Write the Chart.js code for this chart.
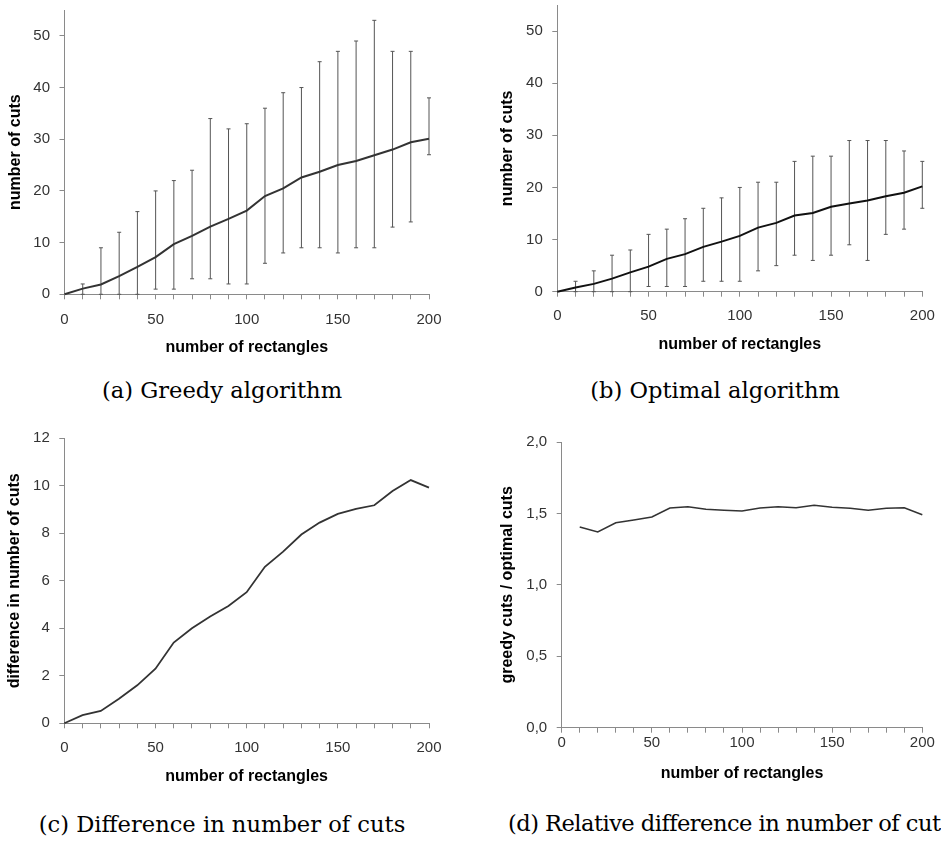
<!DOCTYPE html>
<html><head><meta charset="utf-8">
<script src="https://cdn.jsdelivr.net/npm/chart.js@4"></script>
<style>
html,body{margin:0;padding:0;background:#fff;width:941px;height:841px;overflow:hidden;position:relative}
canvas{position:absolute}
.cap{position:absolute;font-family:'DejaVu Serif',serif;font-size:22.6px;line-height:22px;white-space:nowrap;color:#000}
.ctr{transform:translateX(-50%)}
</style></head><body>
<canvas id="ca" width="470" height="365" style="left:0;top:0"></canvas>
<canvas id="cb" width="471" height="365" style="left:470px;top:0"></canvas>
<canvas id="cc" width="470" height="370" style="left:0;top:420px"></canvas>
<canvas id="cd" width="471" height="370" style="left:470px;top:420px"></canvas>
<div class="cap ctr" style="left:222px;top:379px">(a) Greedy algorithm</div>
<div class="cap ctr" style="left:715px;top:379px">(b) Optimal algorithm</div>
<div class="cap ctr" style="left:222px;top:813px">(c) Difference in number of cuts</div>
<div class="cap" style="left:508px;top:812px;letter-spacing:-0.55px">(d) Relative difference in number of cuts</div>
<script>
// ---- data ----
const rectangles = [0,10,20,30,40,50,60,70,80,90,100,110,120,130,140,150,160,170,180,190,200];
const greedyMean = [0,1.1,1.9,3.5,5.3,7.2,9.7,11.3,13.1,14.6,16.2,19.0,20.5,22.6,23.7,25.0,25.8,26.9,28.0,29.4,30.1];
const greedyMin  = [null,0,0,0,0,1,1,3,3,2,2,6,8,9,9,8,9,9,13,14,27];
const greedyMax  = [null,2,9,12,16,20,22,24,34,32,33,36,39,40,45,47,49,53,47,47,38];
const optimalMean = [0,0.8,1.5,2.5,3.7,4.8,6.3,7.2,8.6,9.6,10.7,12.3,13.2,14.6,15.1,16.3,16.9,17.5,18.3,19.0,20.2];
const optimalMin  = [null,0,0,0,0,1,1,1,2,2,2,4,5,7,6,7,9,6,11,12,16];
const optimalMax  = [null,2,4,7,8,11,12,14,16,18,20,21,21,25,26,26,29,29,29,27,25];
const difference = [0,0.34,0.52,1.03,1.6,2.3,3.4,4.0,4.5,4.94,5.52,6.59,7.23,7.95,8.45,8.82,9.03,9.18,9.78,10.24,9.92];
const ratio = [null,1.405,1.37,1.435,1.454,1.475,1.538,1.547,1.529,1.522,1.517,1.538,1.547,1.54,1.557,1.543,1.536,1.522,1.536,1.54,1.491];

const xTitle = 'number of rectangles';
const AXIS = '#8a8a8a', TICK = '#333', ERR = '#555';

Chart.defaults.font.family = "'Liberation Sans', Arial, sans-serif";
Chart.defaults.animation = false;

function pts(xs, ys){ return xs.map((x,i)=>({x, y: ys[i]})); }
function errSegs(xs, lo, hi){
  const out=[];
  xs.forEach((x,i)=>{ if(lo[i]==null) return; out.push({x,y:lo[i]},{x,y:hi[i]},{x,y:null}); });
  return out;
}
function capPts(xs, lo, hi){
  const out=[];
  xs.forEach((x,i)=>{ if(lo[i]==null) return; out.push({x,y:lo[i]},{x,y:hi[i]}); });
  return out;
}

function make(id, o){
  const datasets = [{
    data: pts(rectangles, o.mean), borderColor: o.lineColor, borderWidth: o.lineWidth,
    pointRadius: 0, tension: 0, clip: false, order: 0, spanGaps: true
  }];
  if (o.lo){
    datasets.push({data: errSegs(rectangles, o.lo, o.hi), borderColor: ERR, borderWidth: 1,
      pointRadius: 0, tension: 0, clip: false, order: 2, spanGaps: false});
    datasets.push({data: capPts(rectangles, o.lo, o.hi), showLine: false, pointStyle: 'line',
      pointRadius: 2, pointBorderWidth: 1, pointBorderColor: ERR, borderColor: ERR, clip: false, order: 1});
  }
  new Chart(document.getElementById(id), {
    type: 'line',
    data: {datasets},
    options: {
      responsive: false, animation: false,
      layout: {padding: {left: 0, top: o.padTop, right: o.padRight, bottom: 0}},
      plugins: {legend: {display: false}, tooltip: {enabled: false}},
      scales: {
        x: {
          type: 'linear', min: 0, max: 200, offset: false,
          border: {display: true, color: AXIS, width: 1},
          grid: {drawOnChartArea: false, drawTicks: true, tickLength: 5, color: AXIS},
          ticks: {stepSize: 10, autoSkip: false, maxRotation: 0, minRotation: 0, padding: o.xTickPad,
            color: TICK, font: {size: 15}, callback: v => (v % 50 === 0 ? String(v) : '')},
          title: {display: true, text: xTitle, color: '#000', font: {size: 16, weight: 'bold'},
            padding: {top: 0, bottom: o.xTitlePad}},
          afterFit: s => { s.height = o.xHeight; s.paddingLeft = 0; s.paddingRight = 0; }
        },
        y: {
          type: 'linear', min: 0, max: o.yMax,
          border: {display: true, color: AXIS, width: 1},
          grid: {drawOnChartArea: false, drawTicks: true, tickLength: 5, color: AXIS},
          ticks: {stepSize: o.yStep, includeBounds: false, padding: 9.5, color: TICK, font: {size: 15},
            callback: o.yFmt || (v => String(v))},
          title: {display: true, text: o.yTitle, color: '#000', font: {size: 16, weight: 'bold'},
            padding: {top: o.yTitlePad, bottom: 0}},
          afterFit: s => { s.width = o.yWidth; s.paddingTop = 0; s.paddingBottom = 0; }
        }
      }
    }
  });
}

make('ca', {mean: greedyMean, lo: greedyMin, hi: greedyMax, lineColor: '#333', lineWidth: 2,
  padTop: 10, padRight: 41, yWidth: 64.5, xHeight: 70.7, xTickPad: 11.7, xTitlePad: 7.4, yTitlePad: 6.4,
  yMax: 55, yStep: 10, yTitle: 'number of cuts'});
make('cb', {mean: optimalMean, lo: optimalMin, hi: optimalMax, lineColor: '#111', lineWidth: 2,
  padTop: 4, padRight: 18.7, yWidth: 87.3, xHeight: 73.3, xTickPad: 10, xTitlePad: 10.4, yTitlePad: 28.4,
  yMax: 55, yStep: 10, yTitle: 'number of cuts'});
make('cc', {mean: difference, lineColor: '#333', lineWidth: 1.8,
  padTop: 18.3, padRight: 41, yWidth: 64.3, xHeight: 66.7, xTickPad: 11, xTitlePad: 3.7, yTitlePad: 5.4,
  yMax: 12, yStep: 2, yTitle: 'difference in number of cuts'});
make('cd', {mean: ratio, lineColor: '#333', lineWidth: 1.6,
  padTop: 22, padRight: 18.7, yWidth: 91.7, xHeight: 62.3, xTickPad: 1.6, xTitlePad: 7.1, yTitlePad: 28.4,
  yMax: 2, yStep: 0.5, yTitle: 'greedy cuts / optimal cuts',
  yFmt: v => v.toFixed(1).replace('.', ',')});
</script>
</body></html>
